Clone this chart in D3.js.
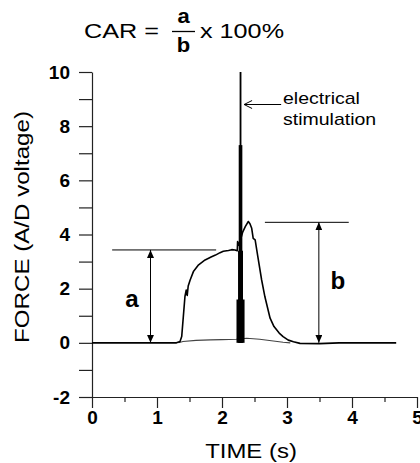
<!DOCTYPE html>
<html lang="en">
<head>
  <meta charset="UTF-8" />
  <title>CAR - force trace</title>
  <script src="https://d3js.org/d3.v7.min.js"></script>
  <style>
    html, body {
      margin: 0;
      padding: 0;
      background-color: #fff;
    }
    svg {
      display: block;
      font-family: Arial, 'Liberation Sans', sans-serif;
    }
  </style>
</head>
<body>
  <svg width="420" height="463"></svg>

  <script>
    // force trace with superimposed twitch
    const traceTime  = [0, 0.5, 1.0, 1.3, 1.354, 1.38, 1.405, 1.43, 1.45, 1.465, 1.48, 1.51, 1.56, 1.64, 1.74, 1.84, 1.90, 1.97, 2.02, 2.10, 2.15, 2.20, 2.235, 2.24, 2.26, 2.32, 2.36, 2.405, 2.43, 2.457, 2.48, 2.51, 2.55, 2.61, 2.66, 2.74, 2.80, 2.88, 2.94, 3.02, 3.10, 3.20, 3.50, 3.80, 4.20, 4.68];
    const traceForce = [0, 0, 0, 0, 0.05, 0.23, 0.97, 1.71, 1.95, 1.75, 2.1, 2.32, 2.63, 2.88, 3.06, 3.18, 3.24, 3.33, 3.38, 3.41, 3.44, 3.43, 3.4, 3.74, 3.6, 4.1, 4.3, 4.48, 4.4, 4.23, 3.86, 3.8, 3.2, 2.32, 1.7, 0.91, 0.6, 0.36, 0.23, 0.1, 0.04, -0.02, -0.03, 0, 0, 0];

    // second (low) trace
    const lowTime  = [1.33, 1.4, 1.6, 1.82, 2.0, 2.22, 2.38, 2.58, 2.79, 2.94, 3.05];
    const lowForce = [0, 0.05, 0.09, 0.11, 0.12, 0.13, 0.17, 0.13, 0.07, 0.02, 0];

    // stimulation artifact: top level and half duration (s) of each part
    const stimTime = 2.285;
    const stimTop = [10, 7.3, 3.4, 1.6];
    const stimHalfWidth = [0.014, 0.028, 0.038, 0.062];

    // a / b markers
    const aLevel = 3.43, aTime = 0.9, aLineTime = [0.31, 1.91];
    const bLevel = 4.45, bTime = 3.49, bLineTime = [2.66, 3.95];
    const arrowTime = [2.91, 2.34], arrowLevel = 8.8;

    const xTicks = d3.range(0, 5.01, 0.5);
    const yTicks = d3.range(-2, 10.01, 1);

    const svg = d3.select("svg");
    const x = d3.scaleLinear().domain([0, 5]).range([92, 417]);
    const y = d3.scaleLinear().domain([-2, 10]).range([397, 72]);

    function stretchText(px, py, str, size, sx, anchor, weight) {
      return svg.append("text")
        .attr("transform", `translate(${px},${py}) scale(${sx},1)`)
        .attr("text-anchor", anchor || "start")
        .style("font-size", size + "px")
        .style("font-weight", weight || "normal")
        .attr("fill", "#000")
        .text(str);
    }

    // markers
    const defs = svg.append("defs");
    defs.append("marker")
      .attr("id", "tri")
      .attr("viewBox", "0 0 8 7")
      .attr("refX", 8).attr("refY", 3.5)
      .attr("markerWidth", 8).attr("markerHeight", 7)
      .attr("markerUnits", "userSpaceOnUse")
      .attr("orient", "auto-start-reverse")
      .append("path").attr("d", "M0,0 L8,3.5 L0,7 Z").attr("fill", "#000");
    defs.append("marker")
      .attr("id", "open")
      .attr("viewBox", "0 0 9 9")
      .attr("refX", 8.5).attr("refY", 4.5)
      .attr("markerWidth", 9).attr("markerHeight", 9)
      .attr("markerUnits", "userSpaceOnUse")
      .attr("orient", "auto")
      .append("path").attr("d", "M0.5,0.5 L8.5,4.5 L0.5,8.5").attr("fill", "none").attr("stroke", "#000").attr("stroke-width", 1);

    // axes
    const xAxis = svg.append("g")
      .attr("transform", `translate(0,${y(-2)})`)
      .call(d3.axisBottom(x).tickValues(xTicks).tickSize(11).tickSizeOuter(0).tickPadding(3)
        .tickFormat(d => Number.isInteger(d) ? d : ""));
    xAxis.selectAll(".tick line").filter(d => !Number.isInteger(d)).attr("y2", 5);

    const yAxis = svg.append("g")
      .attr("transform", `translate(${x(0)},0)`)
      .call(d3.axisLeft(y).tickValues(yTicks).tickSize(13).tickSizeOuter(0).tickPadding(9)
        .tickFormat(d => d % 2 === 0 ? d : ""));

    svg.selectAll(".domain, .tick line").attr("stroke", "#222").attr("stroke-width", 1.2);
    svg.selectAll(".tick text")
      .attr("fill", "#000")
      .style("font-size", "19px")
      .style("font-weight", "bold")
      .style("font-family", "Arial, 'Liberation Sans', sans-serif");

    // traces
    const line = d3.line().x(d => x(d[0])).y(d => y(d[1]));
    svg.append("path")
      .datum(lowTime.map((t, i) => [t, lowForce[i]]))
      .attr("d", line).attr("fill", "none")
      .attr("stroke", "#444").attr("stroke-width", 1.1);
    svg.append("path")
      .datum(traceTime.map((t, i) => [t, traceForce[i]]))
      .attr("d", line).attr("fill", "none")
      .attr("stroke", "#000").attr("stroke-width", 1.6)
      .attr("stroke-linejoin", "round");

    // stimulation artifact
    svg.selectAll("rect.stim")
      .data(stimTop)
      .enter().append("rect")
      .attr("class", "stim")
      .attr("x", (d, i) => x(stimTime - stimHalfWidth[i]))
      .attr("width", (d, i) => x(stimTime + stimHalfWidth[i]) - x(stimTime - stimHalfWidth[i]))
      .attr("y", d => y(d))
      .attr("height", d => y(0) - y(d))
      .attr("fill", "#000");

    // a and b
    [[aLevel, aTime, aLineTime], [bLevel, bTime, bLineTime]].forEach(([lev, t, lt]) => {
      svg.append("line")
        .attr("x1", x(lt[0])).attr("x2", x(lt[1]))
        .attr("y1", y(lev)).attr("y2", y(lev))
        .attr("stroke", "#000").attr("stroke-width", 1);
      svg.append("line")
        .attr("x1", x(t)).attr("x2", x(t))
        .attr("y1", y(0)).attr("y2", y(lev))
        .attr("stroke", "#000").attr("stroke-width", 1)
        .attr("marker-start", "url(#tri)")
        .attr("marker-end", "url(#tri)");
    });
    stretchText(132, 307, "a", 23, 1.05, "middle", "bold");
    stretchText(338, 289, "b", 23, 1.05, "middle", "bold");

    // electrical stimulation label
    svg.append("line")
      .attr("x1", x(arrowTime[0])).attr("x2", x(arrowTime[1]))
      .attr("y1", y(arrowLevel)).attr("y2", y(arrowLevel))
      .attr("stroke", "#000").attr("stroke-width", 1)
      .attr("marker-end", "url(#open)");
    stretchText(283, 104, "electrical", 16, 1.22);
    stretchText(283, 125, "stimulation", 16, 1.22);

    // axis titles
    stretchText(251, 458, "TIME (s)", 21, 1.14, "middle");
    svg.append("text")
      .attr("transform", "translate(29,227) rotate(-90) scale(1.15,1)")
      .attr("text-anchor", "middle")
      .style("font-size", "21px")
      .attr("fill", "#000")
      .text("FORCE (A/D voltage)");

    // formula
    stretchText(84, 38, "CAR =", 21, 1.2);
    stretchText(183.5, 23, "a", 20, 1.1, "middle", "bold");
    stretchText(183.5, 52, "b", 20, 1.1, "middle", "bold");
    svg.append("line")
      .attr("x1", 172).attr("x2", 195).attr("y1", 31.5).attr("y2", 31.5)
      .attr("stroke", "#000").attr("stroke-width", 1.3);
    stretchText(200, 38, "x 100%", 21, 1.2);
  </script>
</body>
</html>
